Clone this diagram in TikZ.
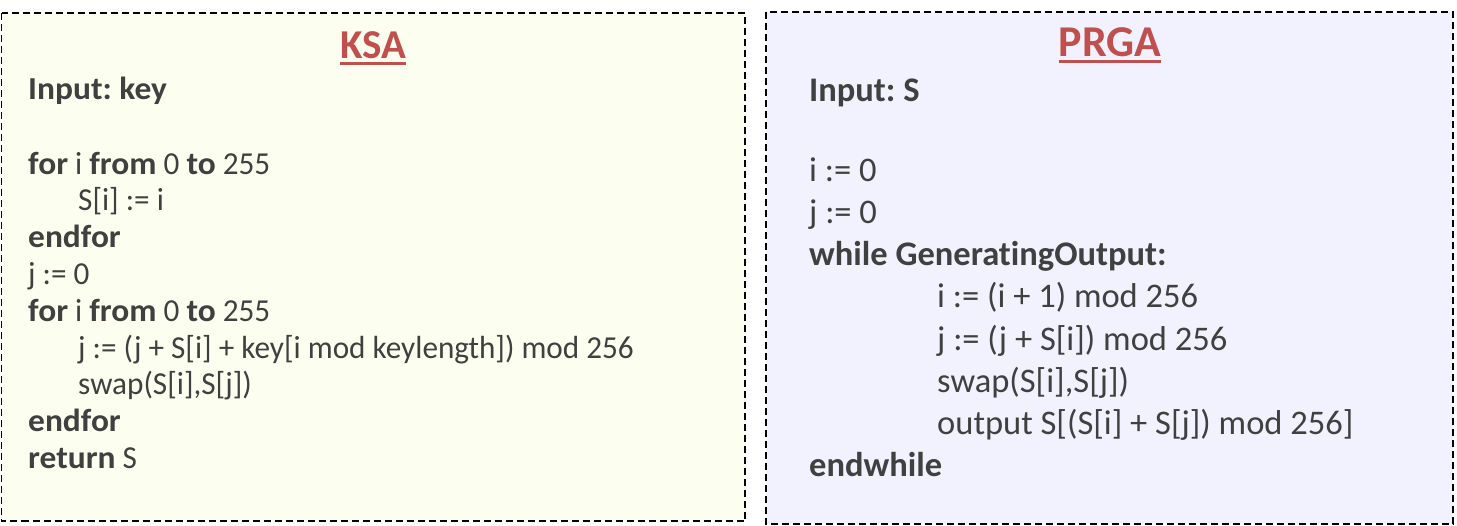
\documentclass[tikz,border=0pt]{standalone}
\usepackage{fontspec}
\setmainfont[Ligatures=NoCommon]{Carlito}
\newfontfamily\ksafont[Ligatures=NoCommon, FakeStretch=0.975, BoldFeatures={FakeStretch=1.045}]{Carlito}
\usepackage{tikz}
\usetikzlibrary{positioning}
\frenchspacing

\definecolor{codegray}{HTML}{404040}
\definecolor{titlered}{HTML}{C0504D}
\definecolor{ksabg}{HTML}{FCFFF0}
\definecolor{prgabg}{HTML}{F2F2FF}

\begin{document}
\begin{tikzpicture}[x=1pt,y=-1pt,
	panel/.style={draw=black, line width=1.5pt, dash pattern=on 7pt off 4pt},
	code/.style={anchor=base west, inner sep=0pt, text=codegray, font=\ksafont\fontsize{32}{38}\selectfont},
	bigcode/.style={code, font=\rmfamily\fontsize{34.5}{41}\selectfont},
	title/.style={anchor=base, inner sep=0pt, text=titlered, font=\fontsize{41}{48}\selectfont\bfseries},
	uline/.style={titlered, line width=3pt}]

\useasboundingbox (0,0) rectangle (1457,525);

% the two panels
\draw[panel, fill=ksabg]  (1.5,13) rectangle (745,521);
\draw[panel, fill=prgabg] (766,12) rectangle (1453,524);

% KSA
\node[title] (ksa) at (373,58) {KSA};
\draw[uline] ([yshift=-5pt]ksa.base west) -- ([yshift=-5pt]ksa.base east);

\node[code] (ksaIn) at (28,99)    {\textbf{Input: key}};
\node[code] (ksa1)  at (28,174)   {\textbf{for} i \textbf{from} 0 \textbf{to} 255};
\node[code] (ksa2)  at (78,210.8) {S[i] := i};
\node[code] (ksa3)  at (28,247.6) {\textbf{endfor}};
\node[code] (ksa4)  at (28,284.4) {j := 0};
\node[code] (ksa5)  at (28,321.2) {\textbf{for} i \textbf{from} 0 \textbf{to} 255};
\node[code] (ksa6)  at (78,358)   {j := (j + S[i] + key[i mod keylength]) mod 256};
\node[code] (ksa7)  at (78,394.8) {swap(S[i],S[j])};
\node[code] (ksa8)  at (28,431.6) {\textbf{endfor}};
\node[code] (ksa9)  at (28,468.4) {\textbf{return} S};

% PRGA
\node[title, font=\fontsize{44}{50}\selectfont\bfseries] (prga) at (1110,56) {PRGA};
\draw[uline] ([yshift=-5pt]prga.base west) -- ([yshift=-5pt]prga.base east);

\node[bigcode] (prgaIn) at (809,101) {\textbf{Input: S}};
\node[bigcode] (prga1)  at (809,181) {i := 0};
\node[bigcode] (prga2)  at (809,223) {j := 0};
\node[bigcode] (prga3)  at (809,265) {\textbf{while GeneratingOutput:}};
\node[bigcode] (prga4)  at (937,307) {i := (i + 1) mod 256};
\node[bigcode] (prga5)  at (937,350) {j := (j + S[i]) mod 256};
\node[bigcode] (prga6)  at (937,392) {swap(S[i],S[j])};
\node[bigcode] (prga7)  at (937,434) {output S[(S[i] + S[j]) mod 256]};
\node[bigcode] (prga8)  at (809,476) {\textbf{endwhile}};
\end{tikzpicture}
\end{document}
